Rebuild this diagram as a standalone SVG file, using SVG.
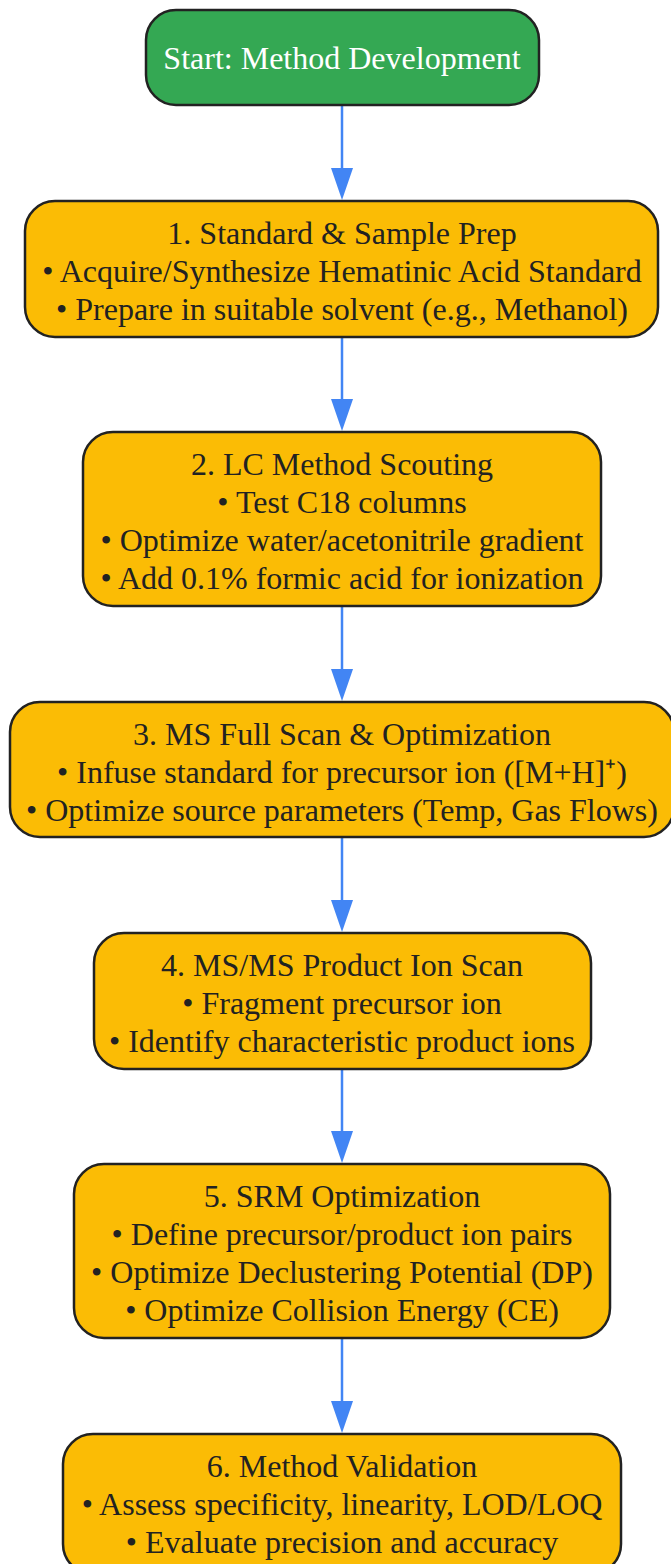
<svg xmlns="http://www.w3.org/2000/svg" width="671" height="1564" viewBox="0 0 671 1564">
<style>
.box{stroke:#222;stroke-width:2.5}
.start{fill:#34A853}
.step{fill:#FBBC05}
text{font-family:"Liberation Serif","Times New Roman",serif;font-size:32px;text-anchor:middle;fill:#222}
.white{fill:#fff}
.edge{stroke:#4285F4;stroke-width:2.5;fill:none}
.head{fill:#4285F4}
</style>
<rect width="671" height="1564" fill="#fff"/>
<g id="connectors">
<path class="edge" d="M342,105 V168" />
<polygon class="head" points="331,168 353,168 342,200"/>
<path class="edge" d="M342,337 V399" />
<polygon class="head" points="331,399 353,399 342,431"/>
<path class="edge" d="M342,606 V669" />
<polygon class="head" points="331,669 353,669 342,701"/>
<path class="edge" d="M342,837 V900" />
<polygon class="head" points="331,900 353,900 342,932"/>
<path class="edge" d="M342,1069 V1131" />
<polygon class="head" points="331,1131 353,1131 342,1163"/>
<path class="edge" d="M342,1338 V1401" />
<polygon class="head" points="331,1401 353,1401 342,1433"/>
</g>
<g id="start">
<rect class="box start" x="146" y="10" width="393" height="95" rx="30"/>
<text class="white" x="342" y="69">Start: Method Development</text>
</g>
<g id="step1">
<rect class="box step" x="25" y="201" width="633" height="136" rx="30"/>
<text x="342" y="244">1. Standard &amp; Sample Prep</text>
<text x="342" y="282">• Acquire/Synthesize Hematinic Acid Standard</text>
<text x="342" y="320">• Prepare in suitable solvent (e.g., Methanol)</text>
</g>
<g id="step2">
<rect class="box step" x="83" y="432" width="518" height="174" rx="30"/>
<text x="342" y="475">2. LC Method Scouting</text>
<text x="342" y="513">• Test C18 columns</text>
<text x="342" y="551">• Optimize water/acetonitrile gradient</text>
<text x="342" y="589">• Add 0.1% formic acid for ionization</text>
</g>
<g id="step3">
<rect class="box step" x="10" y="702" width="664" height="135" rx="30"/>
<text x="342" y="745">3. MS Full Scan &amp; Optimization</text>
<text x="342" y="783">• Infuse standard for precursor ion ([M+H]⁺)</text>
<text x="342" y="821">• Optimize source parameters (Temp, Gas Flows)</text>
</g>
<g id="step4">
<rect class="box step" x="94" y="933" width="497" height="136" rx="30"/>
<text x="342" y="976">4. MS/MS Product Ion Scan</text>
<text x="342" y="1014">• Fragment precursor ion</text>
<text x="342" y="1052">• Identify characteristic product ions</text>
</g>
<g id="step5">
<rect class="box step" x="74" y="1164" width="536" height="174" rx="30"/>
<text x="342" y="1207">5. SRM Optimization</text>
<text x="342" y="1245">• Define precursor/product ion pairs</text>
<text x="342" y="1283">• Optimize Declustering Potential (DP)</text>
<text x="342" y="1321">• Optimize Collision Energy (CE)</text>
</g>
<g id="step6">
<rect class="box step" x="63" y="1434" width="558" height="140" rx="30"/>
<text x="342" y="1477">6. Method Validation</text>
<text x="342" y="1515">• Assess specificity, linearity, LOD/LOQ</text>
<text x="342" y="1553">• Evaluate precision and accuracy</text>
</g>
</svg>
